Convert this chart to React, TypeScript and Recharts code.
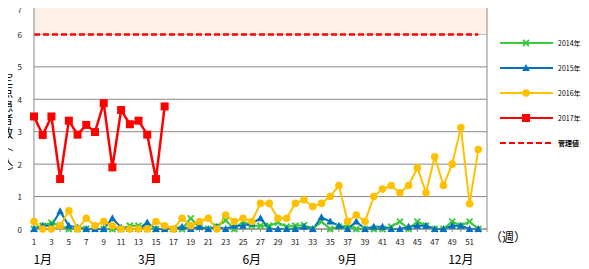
import {
  LineChart,
  Line,
  XAxis,
  YAxis,
  CartesianGrid,
  ReferenceArea,
  ReferenceLine,
  Legend,
} from 'recharts';

const weeks = [
  1, 2, 3, 4, 5, 6, 7, 8, 9, 10, 11, 12, 13, 14, 15, 16, 17, 18, 19, 20, 21, 22, 23, 24, 25, 26,
  27, 28, 29, 30, 31, 32, 33, 34, 35, 36, 37, 38, 39, 40, 41, 42, 43, 44, 45, 46, 47, 48, 49, 50,
  51, 52, 53,
];

const cases2014 = [
  0, 0.1, 0.2, 0.1, 0, 0, 0, 0, 0, 0,
  0, 0.1, 0.1, 0, 0, 0, 0, 0, 0.33, 0.05,
  0, 0.07, 0.27, 0, 0.23, 0.1, 0.1, 0.1, 0.2, 0.07,
  0.1, 0.12, 0, 0.23, 0, 0.07, 0.1, 0, 0, 0,
  0, 0.07, 0.23, 0, 0.23, 0.1, 0, 0, 0.23, 0.1,
  0.23, 0,
];

const cases2015 = [
  0, 0.1, 0.1, 0.55, 0.1, 0.05, 0, 0, 0, 0.33,
  0.05, 0, 0, 0.2, 0, 0, 0, 0.07, 0, 0.07,
  0, 0.07, 0, 0.1, 0.1, 0.17, 0.33, 0, 0, 0,
  0, 0.07, 0, 0.36, 0.23, 0.1, 0, 0.23, 0, 0.07,
  0.07, 0, 0, 0.07, 0.1, 0.1, 0, 0, 0.1, 0.1,
  0, 0,
];

const cases2016 = [
  0.23, 0, 0, 0.1, 0.56, 0, 0.33, 0.1, 0.23, 0.1,
  0, 0, 0, 0, 0.23, 0.1, 0, 0.33, 0.1, 0.23,
  0.33, 0, 0.43, 0.23, 0.33, 0.23, 0.79, 0.79, 0.33, 0.33,
  0.79, 0.9, 0.69, 0.79, 1.0, 1.34, 0.23, 0.43, 0.23, 1.0,
  1.23, 1.34, 1.12, 1.34, 1.89, 1.12, 2.23, 1.34, 2.0, 3.13,
  0.78, 2.45,
];

const cases2017 = [3.47, 2.9, 3.47, 1.54, 3.34, 2.91, 3.21, 2.99, 3.88, 1.9, 3.67, 3.23, 3.34, 2.91, 1.54, 3.78];

const alertLevel = 6;
const yTicks = [0, 1, 2, 3, 4, 5, 6, 7];
const monthTicks = [2, 14, 26, 37, 50];
const monthLabels: Record<number, string> = { 2: '1月', 14: '3月', 26: '6月', 37: '9月', 50: '12月' };
const yTitle = '定点患者数（人）';

const data = weeks.map((w, i) => ({
  week: w,
  y2014: cases2014[i] ?? null,
  y2015: cases2015[i] ?? null,
  y2016: cases2016[i] ?? null,
  y2017: cases2017[i] ?? null,
}));

const GREEN = '#3CC83C';
const BLUE = '#0070C0';
const ORANGE = '#FFC000';
const RED = '#FF0000';
const GRID = '#888888';
const FONT = '"Noto Sans CJK JP", "DejaVu Sans", sans-serif';

const drawMarker = (kind: string, color: string, cx: number, cy: number, key?: any) => {
  if (kind === 'square') return <rect key={key} x={cx - 4} y={cy - 4} width={8} height={8} fill={color} />;
  if (kind === 'circle') return <circle key={key} cx={cx} cy={cy} r={3.8} fill={color} />;
  if (kind === 'triangle')
    return <polygon key={key} points={`${cx},${cy - 4} ${cx + 3.8},${cy + 3} ${cx - 3.8},${cy + 3}`} fill={color} />;
  return (
    <path
      key={key}
      d={`M${cx - 3},${cy - 3}L${cx + 3},${cy + 3}M${cx + 3},${cy - 3}L${cx - 3},${cy + 3}`}
      stroke={color}
      strokeWidth={1.8}
    />
  );
};

const dotFor = (kind: string, color: string) => (p: any) => {
  if (p.cx == null || p.cy == null || p.value == null) return <g key={p.index} />;
  return drawMarker(kind, color, p.cx, p.cy, p.index);
};

const legendItems = [
  { label: '2014年', color: GREEN, kind: 'x' },
  { label: '2015年', color: BLUE, kind: 'triangle' },
  { label: '2016年', color: ORANGE, kind: 'circle' },
  { label: '2017年', color: RED, kind: 'square' },
];

const renderLegend = () => (
  <div style={{ fontFamily: FONT, fontSize: 7, color: '#000', whiteSpace: 'nowrap' }}>
    {legendItems.map((it) => (
      <div key={it.label} style={{ display: 'flex', alignItems: 'center', height: 25 }}>
        <svg width={60} height={10} style={{ flexShrink: 0 }}>
          <line x1={5} y1={5} x2={58} y2={5} stroke={it.color} strokeWidth={2} />
          {drawMarker(it.kind, it.color, 31, 5)}
        </svg>
        <span style={{ marginLeft: 3 }}>{it.label}</span>
      </div>
    ))}
    <div style={{ display: 'flex', alignItems: 'center', height: 25 }}>
      <svg width={60} height={10} style={{ flexShrink: 0 }}>
        <line x1={5} y1={5} x2={58} y2={5} stroke={RED} strokeWidth={2} strokeDasharray="6 3" />
      </svg>
      <span style={{ marginLeft: 3, fontWeight: 'bold' }}>{`管理値 ${alertLevel}`}</span>
    </div>
  </div>
);

// vertical title, one upright glyph per line; brackets turned to their vertical form
const renderYLabel = (props: any) => {
  const vb = props.viewBox || {};
  const chars = Array.from(yTitle);
  const step = 13.5;
  const x = 7;
  const y0 = (vb.y ?? 0) + (vb.height ?? 0) / 2 + 10 - ((chars.length - 1) * step) / 2;
  return (
    <g fontSize={12.5} fontFamily={FONT} fill="#000">
      {chars.map((c, i) => {
        const cy = y0 + i * step;
        const paren = c === '（' || c === '）';
        return (
          <text
            key={i}
            x={x}
            y={cy}
            textAnchor="middle"
            dominantBaseline="central"
            transform={paren ? `rotate(90 ${x} ${cy})` : undefined}
          >
            {c}
          </text>
        );
      })}
    </g>
  );
};

const renderYTick = (props: any) => {
  const { x, y, payload } = props;
  return (
    <text x={x} y={Math.max(y, 5)} textAnchor="end" dominantBaseline="central" fontSize={8} fill="#222" fontFamily={FONT}>
      {payload.value}
    </text>
  );
};

export default function App() {
  return (
    <div style={{ position: 'relative', width: 589, height: 269, marginLeft: -8, marginTop: -8 }}>
      <LineChart width={589} height={269} data={data} margin={{ top: 2, right: 102, left: 0, bottom: 0 }}>
        <ReferenceArea y1={6} y2={7} fill="#FDF0E6" fillOpacity={1} stroke="none" />
        <CartesianGrid vertical={false} stroke={GRID} />
        <XAxis
          dataKey="week"
          interval={0}
          height={18}
          tickSize={3}
          tickMargin={7}
          stroke={GRID}
          tick={{ fontSize: 8, fill: '#222', fontFamily: FONT }}
          tickFormatter={(w: number) => (w % 2 === 1 && w < 53 ? String(w) : '')}
          label={{ value: '（週）', position: 'right', offset: 3, fontSize: 12, fill: '#000', fontFamily: FONT }}
        />
        <XAxis
          xAxisId="month"
          dataKey="week"
          height={22}
          ticks={monthTicks}
          interval={0}
          axisLine={false}
          tickLine={false}
          tick={{ fontSize: 12, fill: '#000', fontFamily: FONT }}
          tickFormatter={(w: number) => monthLabels[w] ?? ''}
        />
        <YAxis
          width={34}
          domain={[0, 7]}
          ticks={yTicks}
          stroke={GRID}
          tickLine={false}
          tickMargin={6}
          tick={renderYTick}
          label={{ content: renderYLabel }}
        />
        <ReferenceLine x={53} stroke={GRID} />
        <ReferenceLine
          segment={[
            { x: 1, y: alertLevel },
            { x: 52, y: alertLevel },
          ]}
          stroke={RED}
          strokeWidth={2.5}
          strokeDasharray="6 3"
        />
        <Line dataKey="y2014" name="2014年" stroke={GREEN} strokeWidth={2} dot={dotFor('x', GREEN)} isAnimationActive={false} />
        <Line dataKey="y2015" name="2015年" stroke={BLUE} strokeWidth={2} dot={dotFor('triangle', BLUE)} isAnimationActive={false} />
        <Line dataKey="y2016" name="2016年" stroke={ORANGE} strokeWidth={2} dot={dotFor('circle', ORANGE)} isAnimationActive={false} />
        <Line dataKey="y2017" name="2017年" stroke={RED} strokeWidth={2.5} dot={dotFor('square', RED)} isAnimationActive={false} />
        <Legend
          layout="vertical"
          align="center"
          verticalAlign="middle"
          content={renderLegend}
          wrapperStyle={{ position: 'absolute', left: 495, top: 30, width: 'auto' }}
        />
      </LineChart>
    </div>
  );
}
